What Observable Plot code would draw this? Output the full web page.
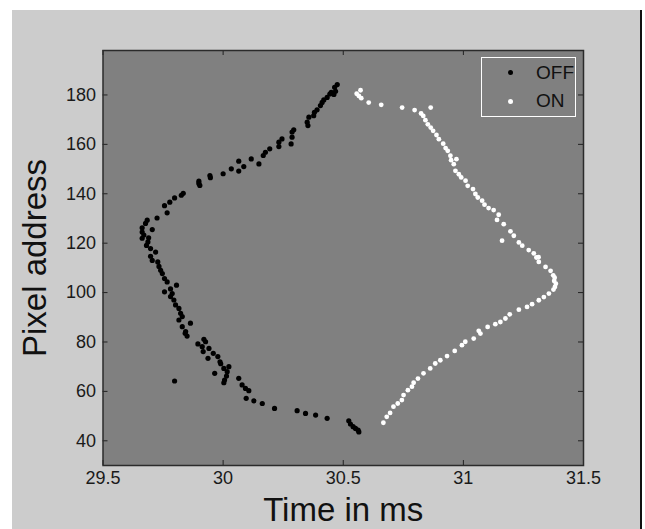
<!DOCTYPE html>
<html><head><meta charset="utf-8">
<script src="https://cdn.jsdelivr.net/npm/d3@7"></script>
<script src="https://cdn.jsdelivr.net/npm/@observablehq/plot@0.6"></script>
<style>
html,body{margin:0;padding:0;background:#fff;}
#fig{position:relative;width:645px;height:529px;overflow:hidden;font-family:"Liberation Sans",Arial,sans-serif;}
#bg{position:absolute;left:12px;top:10px;width:628px;height:519px;background:#cccccc;border-right:2px solid #111;}
#chart{position:absolute;left:0;top:0;}
#legend{position:absolute;left:481px;top:57px;width:93px;height:58px;border:1px solid #fff;}
.lg-dot{position:absolute;width:5px;height:5px;border-radius:50%;}
.lg-txt{position:absolute;font-size:19px;color:#111;line-height:1;}
</style>
</head><body>
<div id="fig">
  <div id="bg"></div>
  <div id="chart"></div>
  <div id="legend">
    <div class="lg-dot" style="left:25.5px;top:12px;background:#000;"></div>
    <div class="lg-txt" style="left:54px;top:4.5px;">OFF</div>
    <div class="lg-dot" style="left:25.5px;top:40.5px;background:#fff;"></div>
    <div class="lg-txt" style="left:54px;top:32.5px;">ON</div>
  </div>
</div>
<script>
const seriesNames = ["OFF", "ON"];
const xTicks = [29.5, 30, 30.5, 31, 31.5];
const yTicks = [40, 60, 80, 100, 120, 140, 160, 180];
const xLabel = "Time in ms";
const yLabel = "Pixel address";

// OFF events: [time in ms, pixel address]
const offPoints = [
[30.475,184.2],[30.464,183.1],[30.468,181.5],[30.45,181.1],[30.444,180.4],[30.461,180.2],[30.433,179],[30.419,178],[30.412,177],[30.405,175.7],[30.391,174],[30.38,173],[30.377,171.6],[30.357,171],[30.35,169],[30.353,167.6],[30.294,165.9],[30.287,165],[30.287,162.9],[30.283,160.2],[30.245,162.2],[30.232,160.9],[30.232,159.1],[30.194,158.2],[30.176,156.8],[30.167,155.5],[30.149,152.1],[30.117,154.1],[30.086,151],[30.065,153.2],[30.065,149.2],[30.034,150.1],[30.0,148.1],[29.945,147.4],[29.947,146.5],[29.899,145.1],[29.903,143.4],[29.899,144.2],[29.834,140.2],[29.826,139.4],[29.798,138.3],[29.778,136.6],[29.756,135.2],[29.767,132.3],[29.725,130.2],[29.684,129.3],[29.677,128],[29.663,126.2],[29.705,125.5],[29.69,122.2],[29.663,124.5],[29.67,123.3],[29.663,122],[29.687,120.5],[29.681,119.1],[29.698,117.8],[29.719,116.4],[29.698,114.7],[29.705,113],[29.728,112.4],[29.733,110.6],[29.74,109],[29.747,107.7],[29.756,105.7],[29.767,104.3],[29.806,103],[29.756,100.3],[29.788,99.6],[29.781,101.5],
[29.781,98.4],[29.795,97],[29.802,95],[29.816,93.6],[29.823,91.6],[29.83,90.3],[29.816,88.9],[29.864,87.6],[29.83,86.2],[29.844,84.2],[29.85,82.4],[29.842,83.5],[29.895,79.2],[29.92,81.1],[29.927,80.1],[29.913,78.1],[29.941,77.4],[29.917,76.1],[29.959,75.4],[29.937,73.4],[29.978,74.1],[29.987,72],[29.99,71.2],[30.003,69.3],[30.024,70],[30.017,68],[30.014,66.2],[30.006,64.6],[30.003,63.5],[29.965,67.3],[29.798,64.2],[30.065,65.3],[30.079,62.6],[30.093,61.2],[30.107,60.3],[30.096,57.2],[30.128,56.2],[30.163,55.1],[30.214,53.1],[30.308,52.2],[30.343,51.1],[30.385,50.4],[30.433,49.1],[30.523,48.1],[30.53,46.8],[30.541,45.7],[30.551,45],[30.565,43.6],[30.562,44.3]
];

// ON events: [time in ms, pixel address]
const onPoints = [
[30.572,181.9],[30.556,180.5],[30.565,179.6],[30.575,178.7],[30.606,176.9],[30.658,176],[30.745,174.9],[30.797,173.9],[30.864,174.9],[30.824,172.5],[30.833,171.5],[30.842,169.8],[30.852,168.1],[30.864,166.8],[30.874,165.5],[30.888,163.8],[30.898,162.1],[30.916,160.3],[30.926,158.5],[30.935,157.4],[30.946,155.4],[30.949,153.6],[30.971,154],[30.96,152],[30.967,149.3],[30.981,147.9],[30.991,146.6],[31.009,145.3],[31.018,143.2],[31.04,141.9],[31.05,139.9],[31.06,138.5],[31.078,137.2],[31.088,135.6],[31.105,134.2],[31.126,133.4],[31.147,131.5],[31.14,129.4],[31.168,127.7],[31.161,121],[31.196,124.8],[31.21,123],[31.231,120.3],[31.245,119],[31.272,117.2],[31.293,115.9],[31.313,114.3],
[31.304,114.2],[31.314,112.4],[31.342,110.4],[31.363,108.8],[31.374,107],[31.38,106],[31.378,104.7],[31.385,103.6],[31.381,102.3],[31.375,101.2],[31.356,99.6],[31.335,98.2],[31.314,96.9],[31.286,95.3],[31.265,94.2],[31.231,93.1],[31.193,91.2],[31.175,89.5],[31.154,88.1],[31.133,87.2],[31.101,86.1],[31.071,83.4],[31.064,84.5],[31.043,81.4],[31.008,80.1],[30.994,78.7],[30.964,76.4],[30.932,74.3],[30.904,72.6],[30.883,71.3],[30.862,69.3],[30.834,67.3],[30.811,65.2],[30.793,63.5],[30.786,61.9],[30.769,60.5],[30.751,58.5],[30.744,56.5],[30.727,55.1],[30.709,53.8],[30.695,51.3],[30.681,49.7],[30.667,47.3]
];

const offData = offPoints.map(([t, p]) => ({t, p, s: seriesNames[0]}));
const onData = onPoints.map(([t, p]) => ({t, p, s: seriesNames[1]}));

const plot = Plot.plot({
  width: 645, height: 529,
  marginLeft: 102.5, marginRight: 62, marginTop: 50, marginBottom: 64,
  style: {background: "transparent", fontFamily: "'Liberation Sans', Arial, sans-serif", color: "#1a1a1a"},
  x: {domain: [29.5, 31.5], axis: null},
  y: {domain: [30, 198], axis: null},
  marks: [
    Plot.frame({fill: "#808080"}),
    Plot.dot(offData, {x: "t", y: "p", r: 2.6, fill: "#000", stroke: null}),
    Plot.dot(onData, {x: "t", y: "p", r: 2.4, fill: "#fff", stroke: null}),
    Plot.tickX(xTicks, {x: d => d, insetTop: 410, stroke: "#222"}),
    Plot.tickX(xTicks, {x: d => d, insetBottom: 410, stroke: "#222"}),
    Plot.tickY(yTicks, {y: d => d, insetLeft: 475.5, stroke: "#222"}),
    Plot.tickY(yTicks, {y: d => d, insetRight: 475.5, stroke: "#222"}),
    Plot.text(xTicks, {x: d => d, text: d => String(d), frameAnchor: "bottom", lineAnchor: "top", textAnchor: "middle", dy: 6, fontSize: 18, fill: "#1a1a1a"}),
    Plot.text(yTicks, {y: d => d, text: d => String(d), frameAnchor: "left", lineAnchor: "middle", textAnchor: "end", dx: -7, fontSize: 18, fill: "#1a1a1a"}),
    Plot.frame({stroke: "#2b2b2b", strokeWidth: 1.5}),
    Plot.text([xLabel], {frameAnchor: "bottom", lineAnchor: "middle", textAnchor: "middle", dy: 45, fontSize: 33, fill: "#111"}),
    Plot.text([yLabel], {frameAnchor: "left", lineAnchor: "middle", textAnchor: "middle", dx: -67.5, rotate: -90, fontSize: 33, fill: "#111"})
  ]
});
document.getElementById("chart").appendChild(plot);
</script>
</body></html>
